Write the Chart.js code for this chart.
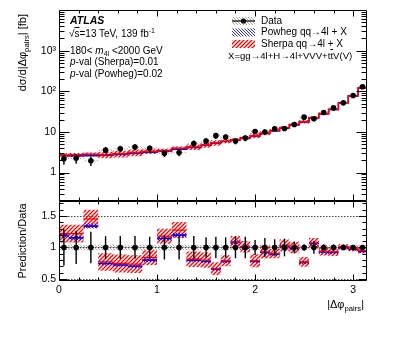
<!DOCTYPE html>
<html><head><meta charset="utf-8">
<script src="https://cdn.jsdelivr.net/npm/chart.js@4.4.1/dist/chart.umd.min.js"></script>
<style>
html,body{margin:0;padding:0;background:#fff;}
#wrap{position:relative;width:399px;height:337px;overflow:hidden;font-family:'Liberation Sans',Arial,Helvetica,sans-serif;color:#000;}
canvas{position:absolute;left:0;top:0;}
.t{position:absolute;white-space:nowrap;font-size:10px;line-height:10px;}
sub,sup{font-size:70%;line-height:0;position:relative;vertical-align:baseline;}
sup{top:-0.5em;}
sub{top:0.35em;}
.rot{transform-origin:0 0;transform:rotate(-90deg);width:120px;font-size:11px;line-height:11px;}
.ol{text-decoration:overline;}
</style></head>
<body><div id="wrap">
<canvas id="cTop" width="399" height="337"></canvas>
<canvas id="cBot" width="399" height="337"></canvas>

<div class="t" style="left:70px;top:15px;font-size:10.5px;line-height:10.5px;font-weight:bold;font-style:italic">ATLAS</div>
<div class="t" style="left:69px;top:28.5px">√<span class="ol">s</span>=13 TeV, 139 fb<sup>-1</sup></div>
<div class="t" style="left:70px;top:45.5px">180&lt; <i>m</i><sub>4l</sub> &lt;2000 GeV</div>
<div class="t" style="left:70px;top:57px"><i>p</i>-val (Sherpa)=0.01</div>
<div class="t" style="left:70px;top:68.5px"><i>p</i>-val (Powheg)=0.02</div>

<div class="t" style="left:261px;top:15.7px">Data</div>
<div class="t" style="left:261px;top:27.3px">Powheg qq→4l + X</div>
<div class="t" style="left:261px;top:39px">Sherpa qq→4l + X</div>
<div class="t" style="left:228px;top:50.5px;font-size:9.6px">X=gg→4l+H→4l+VVV+t<span class="ol">t</span>V(V)</div>

<div class="t rot" style="left:17px;top:134px;text-align:right">dσ/d|Δφ<sub>pairs</sub>| [fb]</div>
<div class="t rot" style="left:17px;top:301px;text-align:center">Prediction/Data</div>
<div class="t" style="right:35px;top:299px;font-size:11px;line-height:11px">|Δφ<sub>pairs</sub>|</div>
</div>
<script>
// ---------------- data ----------------
const binEdges   = [0,0.1,0.25,0.4,0.55,0.7,0.85,1.0,1.15,1.3,1.45,1.55,1.65,1.75,1.85,1.95,2.05,2.15,2.25,2.35,2.45,2.55,2.65,2.75,2.85,2.95,3.05,3.1416];
const dataVals   = [2.2,2.24,1.95,3.58,3.87,4.24,3.94,2.97,3.12,5.2, 6.0,8.1,7.46,5.95,7.1,10.2,10.0,11.95,12.2,15.3, 23.1,21.0,30.0,39.0,51.9,78.5,129];
const dataTotErr = [0.29,0.26,0.25,0.18,0.18,0.18,0.17,0.19,0.19,0.18, 0.16,0.17,0.16,0.17,0.17,0.12,0.15,0.13,0.14,0.09, 0.05,0.10,0.05,0.05,0.04,0.04,0.03];
const dataSysErr = [0.045,0.045,0.045,0.045,0.045,0.045,0.045,0.045,0.045,0.045, 0.045,0.045,0.045,0.045,0.045,0.045,0.045,0.045,0.045,0.045, 0.045,0.045,0.045,0.045,0.045,0.045,0.045];
const powhegVals = [2.62,2.58,2.61,2.67,2.80,2.98,3.15,3.39,3.73,4.16, 4.68,5.31,5.82,6.43,7.10,7.96,9.20,10.7,12.5,15.1, 17.6,22.3,27.9,35.9,51.9,76.4,121];
const powhegErr  = [0.03,0.03,0.03,0.035,0.035,0.035,0.035,0.03,0.03,0.03, 0.03,0.035,0.03,0.03,0.03,0.03,0.03,0.03,0.03,0.03, 0.03,0.03,0.03,0.025,0.025,0.025,0.025];
const sherpaVals = [2.68,2.73,2.83,2.76,2.89,3.12,3.31,3.50,3.98,4.24, 4.80,5.40,5.89,6.46,7.17,8.06,9.30,10.8,12.6,15.3, 17.8,22.5,28.2,36.3,52.4,76.9,122.5];
const sherpaErr  = [0.115,0.115,0.10,0.18,0.19,0.19,0.14,0.10,0.10,0.15, 0.15,0.15,0.11,0.09,0.09,0.13,0.11,0.08,0.09,0.09, 0.10,0.075,0.07,0.07,0.04,0.04,0.047];
const yTopTickLabels = {1:'1',10:'10',100:'10²',1000:'10³'};
const yRatioTickLabels = [0.5,1,1.5];
const xTickLabels = [0,1,2,3];

// ---------------- helpers ----------------
Chart.defaults.font.family = "'Liberation Sans', Arial, Helvetica, sans-serif";
Chart.defaults.color = '#000';

function hatch(color, dir, size, lw) {
  const c = document.createElement('canvas'); c.width = size; c.height = size;
  const g = c.getContext('2d'); g.strokeStyle = color; g.lineWidth = lw; g.beginPath();
  if (dir === '/') {
    g.moveTo(0, size); g.lineTo(size, 0);
    g.moveTo(-1, 1); g.lineTo(1, -1);
    g.moveTo(size-1, size+1); g.lineTo(size+1, size-1);
  } else {
    g.moveTo(0, 0); g.lineTo(size, size);
    g.moveTo(-1, size-1); g.lineTo(1, size+1);
    g.moveTo(size-1, -1); g.lineTo(size+1, 1);
  }
  g.stroke();
  return g.createPattern(c, 'repeat');
}
const pRed  = hatch('#ff0000', '/', 4, 1.35);
const pBlue = hatch('rgba(0,0,255,0.95)', '\\', 3, 0.9);
const pGrey = hatch('rgba(120,120,120,0.8)', '\\', 3, 0.8);

function step(vals, gaps) {
  const pts = [];
  vals.forEach((v, i) => {
    pts.push({x: binEdges[i], y: v});
    pts.push({x: binEdges[i+1], y: v});
    if (gaps) pts.push({x: binEdges[i+1], y: null});
  });
  return pts;
}
const centers = dataVals.map((v, i) => (binEdges[i] + binEdges[i+1]) / 2);

const lineDs = (data, color, w, order) => ({data, borderColor: color, borderWidth: w, pointRadius: 0, fill: false, order, spanGaps: false});
const bandLo = (data, order) => ({data, borderWidth: 0, pointRadius: 0, fill: false, order, borderColor: 'rgba(0,0,0,0)'});
const bandHi = (data, pattern, order) => ({data, borderWidth: 0, pointRadius: 0, fill: '-1', backgroundColor: pattern, order, borderColor: 'rgba(0,0,0,0)'});

// tick lists for inward ticks
const xTicksInward = [];
for (let k = 0; k <= 15; k++) { const v = k * 0.2; if (v <= Math.PI) xTicksInward.push({v, len: (k % 5 === 0) ? 6 : 3}); }
const yTopInward = [];
for (let e = -1; e <= 3; e++) for (let m = 1; m <= 9; m++) {
  const v = m * Math.pow(10, e); if (v >= 0.2 && v <= 1e4) yTopInward.push({v, len: m === 1 ? 10 : 5});
}
const yBotInward = [];
for (let k = 5; k <= 17; k++) yBotInward.push({v: k / 10, len: (k % 5 === 0) ? 8 : 4});

const framePlugin = {
  id: 'frame',
  beforeDatasetsDraw(chart, args, o) {
    if (!o.dotted) return;
    const {ctx, chartArea: a} = chart; const ys = chart.scales.y;
    ctx.save(); ctx.strokeStyle = '#444'; ctx.lineWidth = 1; ctx.setLineDash([1.5, 1.5]);
    o.dotted.forEach(v => { const py = Math.round(ys.getPixelForValue(v)) + 0.5;
      ctx.beginPath(); ctx.moveTo(a.left, py); ctx.lineTo(a.right, py); ctx.stroke(); });
    ctx.restore();
  },
  afterDraw(chart, args, o) {
    const {ctx, chartArea: a} = chart; const xs = chart.scales.x, ys = chart.scales.y;
    const L = Math.round(a.left) + 0.5, R = Math.round(a.right) - 0.5, T = Math.round(a.top) + 0.5, B = Math.round(a.bottom) - 0.5;
    ctx.save(); ctx.strokeStyle = '#000'; ctx.lineWidth = 1; ctx.beginPath();
    ctx.rect(L, T, R - L, B - T);
    xTicksInward.forEach(t => { const px = Math.round(xs.getPixelForValue(t.v)) + 0.5;
      ctx.moveTo(px, B); ctx.lineTo(px, B - t.len); ctx.moveTo(px, T); ctx.lineTo(px, T + t.len); });
    o.yTicks.forEach(t => { const py = Math.round(ys.getPixelForValue(t.v)) + 0.5;
      if (py < T - 0.1 || py > B + 0.1) return;
      ctx.moveTo(L, py); ctx.lineTo(L + t.len, py); ctx.moveTo(R, py); ctx.lineTo(R - t.len, py); });
    ctx.stroke(); ctx.restore();
  }
};

const errPlugin = {
  id: 'errbars',
  beforeDatasetDraw(chart, args, o) {
    if (args.index !== o.index) return;
    const {ctx} = chart; const xs = chart.scales.x, ys = chart.scales.y;
    ctx.save(); ctx.strokeStyle = '#000'; ctx.lineWidth = 1.4;
    o.bars.forEach(b => { const px = xs.getPixelForValue(b.x);
      ctx.beginPath(); ctx.moveTo(px, ys.getPixelForValue(b.lo)); ctx.lineTo(px, ys.getPixelForValue(b.hi)); ctx.stroke(); });
    ctx.restore();
  }
};

const swatchPlugin = {
  id: 'swatches',
  afterDraw(chart) {
    const ctx = chart.ctx; const x0 = 232, w = 23, h = 8;
    ctx.save();
    // Data
    let y0 = 17; ctx.fillStyle = pGrey; ctx.fillRect(x0, y0, w, h);
    ctx.strokeStyle = '#000'; ctx.lineWidth = 1.2; ctx.beginPath(); ctx.moveTo(x0, y0 + h/2); ctx.lineTo(x0 + w, y0 + h/2); ctx.stroke();
    ctx.fillStyle = '#000'; ctx.beginPath(); ctx.arc(x0 + w/2, y0 + h/2, 2.6, 0, 2*Math.PI); ctx.fill();
    // Powheg
    y0 = 28.5; ctx.fillStyle = pBlue; ctx.fillRect(x0, y0, w, h);
    // Sherpa
    y0 = 40; ctx.fillStyle = pRed; ctx.fillRect(x0, y0, w, h);
    ctx.restore();
  }
};

// ---------------- top panel ----------------
const dataBarsTop = dataVals.map((v, i) => ({x: centers[i], lo: v * (1 - dataTotErr[i]), hi: v * (1 + dataTotErr[i])}));
const topDatasets = [
  bandLo(step(dataVals.map((v, i) => v * (1 - dataSysErr[i]))), 30),
  bandHi(step(dataVals.map((v, i) => v * (1 + dataSysErr[i]))), pGrey, 29),
  bandLo(step(sherpaVals.map((v, i) => v * (1 - sherpaErr[i]))), 28),
  bandHi(step(sherpaVals.map((v, i) => v * (1 + sherpaErr[i]))), pRed, 27),
  bandLo(step(powhegVals.map((v, i) => v * (1 - powhegErr[i]))), 26),
  bandHi(step(powhegVals.map((v, i) => v * (1 + powhegErr[i]))), pBlue, 25),
  lineDs(step(powhegVals), '#0000ff', 1.5, 5),
  lineDs(step(sherpaVals), '#ff0000', 1.5, 4),
  {data: dataVals.map((v, i) => ({x: centers[i], y: v})), showLine: false, pointRadius: 2.8, pointBackgroundColor: '#000', pointBorderWidth: 0, order: 0}
];
new Chart(document.getElementById('cTop'), {
  type: 'line',
  data: {datasets: topDatasets},
  plugins: [framePlugin, errPlugin, swatchPlugin],
  options: {
    responsive: false, animation: false, devicePixelRatio: 1, events: [],
    layout: {padding: {top: 10, right: 32, bottom: 136, left: 0}},
    plugins: {legend: {display: false}, tooltip: {enabled: false},
      frame: {yTicks: yTopInward}, errbars: {index: 8, bars: dataBarsTop}},
    scales: {
      x: {type: 'linear', min: 0, max: Math.PI, display: false},
      y: {type: 'logarithmic', min: 0.2, max: 10000,
        afterBuildTicks: s => { s.ticks = Object.keys(yTopTickLabels).map(v => ({value: +v})); },
        afterFit: s => { s.width = 59; },
        ticks: {callback: v => yTopTickLabels[v] || '', font: {size: 10.5}, color: '#000', padding: 3, autoSkip: false},
        grid: {display: false, drawTicks: false}, border: {display: false}}
    }
  }
});

// ---------------- ratio panel ----------------
const ones = dataVals.map(() => 1);
const rPow = powhegVals.map((v, i) => v / dataVals[i]);
const rShe = sherpaVals.map((v, i) => v / dataVals[i]);
const dataBarsBot = dataVals.map((v, i) => ({x: centers[i], lo: 1 - dataTotErr[i], hi: 1 + dataTotErr[i]}));
const botDatasets = [
  bandLo(step(ones.map((v, i) => v - dataSysErr[i])), 30),
  bandHi(step(ones.map((v, i) => v + dataSysErr[i])), pGrey, 29),
  bandLo(step(rShe.map((v, i) => v * (1 - sherpaErr[i]))), 28),
  bandHi(step(rShe.map((v, i) => v * (1 + sherpaErr[i]))), pRed, 27),
  bandLo(step(rPow.map((v, i) => v * (1 - powhegErr[i]))), 26),
  bandHi(step(rPow.map((v, i) => v * (1 + powhegErr[i]))), pBlue, 25),
  lineDs(step(rPow, true), '#0000ff', 1.6, 5),
  lineDs(step(rShe, true), '#ff0000', 1.3, 4),
  {data: ones.map((v, i) => ({x: centers[i], y: v})), showLine: false, pointRadius: 2.8, pointBackgroundColor: '#000', pointBorderWidth: 0, order: 0}
];
new Chart(document.getElementById('cBot'), {
  type: 'line',
  data: {datasets: botDatasets},
  plugins: [framePlugin, errPlugin],
  options: {
    responsive: false, animation: false, devicePixelRatio: 1, events: [],
    layout: {padding: {top: 201, right: 32, bottom: 36, left: 0}},
    plugins: {legend: {display: false}, tooltip: {enabled: false},
      frame: {yTicks: yBotInward, dotted: [0.5, 1, 1.5]}, errbars: {index: 8, bars: dataBarsBot}},
    scales: {
      x: {type: 'linear', min: 0, max: Math.PI,
        afterBuildTicks: s => { s.ticks = xTickLabels.map(v => ({value: v})); },
        afterFit: s => { s.height = 20; },
        ticks: {callback: v => String(v), font: {size: 10.5}, color: '#000', padding: 3, maxRotation: 0, autoSkip: false},
        grid: {display: false, drawTicks: false}, border: {display: false}},
      y: {min: 0.47, max: 1.735,
        afterBuildTicks: s => { s.ticks = yRatioTickLabels.map(v => ({value: v})); },
        afterFit: s => { s.width = 59; },
        ticks: {callback: v => String(v), font: {size: 10.5}, color: '#000', padding: 3, autoSkip: false},
        grid: {display: false, drawTicks: false}, border: {display: false}}
    }
  }
});
</script>
</body></html>
